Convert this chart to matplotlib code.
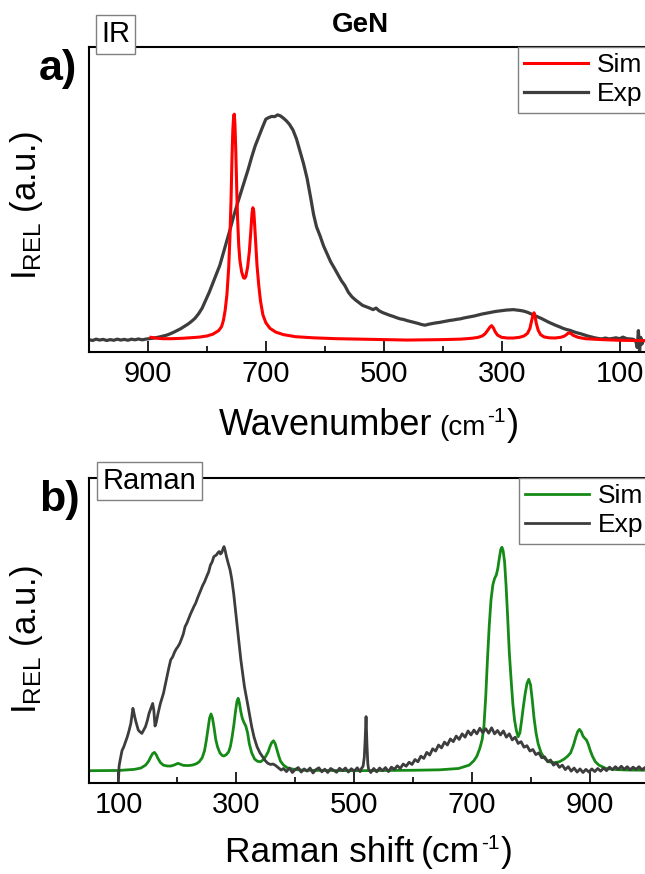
import matplotlib
matplotlib.use('Agg')
import matplotlib.pyplot as plt
from matplotlib.ticker import FixedLocator
from matplotlib.lines import Line2D

plt.rcParams['font.family'] = ['Liberation Sans', 'DejaVu Sans']
plt.rcParams['mathtext.fontset'] = 'custom'
plt.rcParams['mathtext.rm'] = 'Liberation Sans'
plt.rcParams['mathtext.it'] = 'Liberation Sans:italic'
plt.rcParams['mathtext.bf'] = 'Liberation Sans:bold'

# ---------------- data: IR (panel a) ----------------
ir_sim_x = [895, 885, 874, 860, 840, 813, 800, 790, 780, 775, 772, 769, 766, 763, 761,
            759, 757.5, 756, 754.5, 753.5, 752.5, 751, 749.5, 748, 746, 744, 741, 738, 736, 734,
            731, 728, 725.5, 723.5, 722, 720.5, 719, 717, 715, 712, 709, 705, 700, 693, 683,
            670, 650, 620, 580, 520, 460, 400, 370, 350, 340, 333, 328, 324, 320, 317,
            314, 311, 307, 300, 290, 280, 270, 262, 256, 252, 249, 246.5, 245, 243.5, 241,
            238, 234, 228, 220, 210, 200, 194, 190, 187, 185, 182, 178, 170, 158, 130,
            100, 75, 50]
ir_sim_y = [0.010, 0.006, 0.004, 0.004, 0.006, 0.011, 0.016, 0.024, 0.040, 0.058, 0.085, 0.13, 0.20, 0.32, 0.45,
            0.62, 0.80, 0.93, 0.995, 1.0, 0.96, 0.84, 0.68, 0.54, 0.42, 0.35, 0.30, 0.275, 0.272, 0.28,
            0.32, 0.39, 0.48, 0.56, 0.585, 0.57, 0.51, 0.42, 0.33, 0.24, 0.17, 0.11, 0.075, 0.050, 0.033,
            0.022, 0.013, 0.008, 0.004, 0.001, -0.002, 0.000, 0.002, 0.006, 0.010, 0.016, 0.026, 0.040, 0.055, 0.062,
            0.052, 0.035, 0.020, 0.010, 0.007, 0.007, 0.010, 0.016, 0.028, 0.050, 0.085, 0.112, 0.119, 0.105, 0.070,
            0.042, 0.022, 0.012, 0.008, 0.007, 0.010, 0.015, 0.022, 0.029, 0.030, 0.026, 0.018, 0.010, 0.004, 0.000,
            -0.003, -0.004, -0.005]

ir_exp_x = [1000, 994, 988, 982, 976, 970, 964, 958, 952, 946,
            940, 934, 928, 922, 916, 910, 904, 898, 892, 886,
            880, 874, 868, 862, 856, 850, 844, 838, 832, 826,
            820, 814, 808, 802, 796, 790, 784, 778, 772, 766,
            760, 754, 748, 742, 736, 730, 724, 718, 712, 706,
            700, 695, 690, 685, 680, 675, 670, 665, 660, 654,
            648, 642, 636, 630, 624, 619, 614, 608, 602, 596,
            590, 584, 578, 572, 566, 560, 554, 548, 542, 536,
            530, 524, 518, 513, 508, 502, 496, 490, 484, 478,
            472, 466, 460, 454, 448, 442, 436, 430, 424, 418,
            412, 406, 400, 394, 388, 382, 376, 370, 364, 358,
            352, 346, 340, 334, 328, 322, 316, 310, 304, 298,
            292, 286, 280, 274, 268, 262, 256, 250, 244, 238,
            232, 226, 220, 214, 208, 202, 196, 190, 184, 178,
            172, 166, 160, 154, 148, 142, 136, 130, 124, 118,
            112, 106, 100, 94, 88, 82, 76, 72, 70, 68,
            66, 64, 62, 60]
ir_exp_y = [0.000, -0.004, 0.002, -0.002, 0.001, -0.004, 0.000, -0.003, 0.002, -0.002,
            0.001, -0.003, 0.002, -0.001, 0.003, -0.001, 0.002, 0.004, 0.006, 0.009,
            0.012, 0.016, 0.020, 0.026, 0.033, 0.041, 0.049, 0.059, 0.069, 0.081,
            0.095, 0.115, 0.140, 0.175, 0.210, 0.250, 0.290, 0.330, 0.385, 0.440,
            0.495, 0.553, 0.605, 0.655, 0.705, 0.755, 0.810, 0.860, 0.900, 0.940,
            0.978, 0.985, 0.990, 0.989, 0.997, 0.992, 0.982, 0.970, 0.955, 0.930,
            0.890, 0.835, 0.780, 0.715, 0.630, 0.555, 0.500, 0.460, 0.415, 0.380,
            0.345, 0.318, 0.290, 0.262, 0.240, 0.210, 0.190, 0.176, 0.164, 0.152,
            0.146, 0.140, 0.133, 0.140, 0.128, 0.120, 0.114, 0.108, 0.103, 0.097,
            0.092, 0.089, 0.084, 0.080, 0.076, 0.072, 0.067, 0.064, 0.068, 0.071,
            0.074, 0.076, 0.079, 0.082, 0.085, 0.087, 0.090, 0.092, 0.096, 0.099,
            0.102, 0.105, 0.109, 0.113, 0.116, 0.119, 0.122, 0.125, 0.127, 0.129,
            0.131, 0.132, 0.133, 0.131, 0.129, 0.126, 0.121, 0.114, 0.107, 0.100,
            0.093, 0.085, 0.077, 0.070, 0.063, 0.057, 0.050, 0.045, 0.041, 0.035,
            0.030, 0.026, 0.021, 0.016, 0.012, 0.008, 0.005, 0.003, 0.007, 0.003,
            0.005, 0.008, 0.004, 0.011, 0.004, 0.003, 0.001, -0.010, -0.035, 0.040,
            -0.050, 0.010, -0.020, -0.005]

# ---------------- data: Raman (panel b) ----------------
ra_sim_x = [50, 100, 127, 138, 146, 151, 155, 158, 161, 164, 167, 171, 176, 183, 189,
            195, 199, 201, 204, 210, 218, 225, 232, 237, 242, 246, 249, 252, 254.5, 257,
            259.5, 262, 265, 268, 272, 276, 279, 283, 287, 290, 293, 296, 298.5, 301, 303,
            305, 307.5, 310, 313, 316, 319, 322, 326, 331, 336, 341, 346, 350, 354, 357,
            360, 363, 366, 369, 372, 375, 380, 387, 400, 415, 500, 600, 645, 677, 695,
            703, 708, 713, 717, 720, 723, 726, 729, 732, 735, 738, 741, 743.5, 746, 748.5,
            750.5, 752.5, 755, 757.5, 760, 763, 766, 769, 772, 775, 778, 781, 784, 787, 790,
            793, 796, 799, 802, 805, 808.5, 812, 817, 823, 830, 840, 848, 856, 862, 867,
            872, 876, 879, 882, 885, 888, 891, 894, 897, 900, 904, 909, 915, 927, 945,
            964, 1000]
ra_sim_y = [0.000, 0.001, 0.006, 0.012, 0.025, 0.042, 0.063, 0.077, 0.082, 0.072, 0.055, 0.037, 0.025, 0.021, 0.021,
            0.026, 0.031, 0.033, 0.030, 0.024, 0.023, 0.025, 0.031, 0.040, 0.058, 0.090, 0.135, 0.190, 0.235, 0.254,
            0.235, 0.195, 0.140, 0.107, 0.080, 0.068, 0.066, 0.072, 0.085, 0.110, 0.155, 0.210, 0.265, 0.310, 0.324,
            0.305, 0.265, 0.235, 0.215, 0.200, 0.170, 0.120, 0.080, 0.052, 0.042, 0.040, 0.050, 0.065, 0.085, 0.108,
            0.126, 0.134, 0.120, 0.093, 0.065, 0.042, 0.025, 0.012, 0.005, 0.002, 0.000, 0.002, 0.004, 0.010, 0.025,
            0.045, 0.065, 0.100, 0.140, 0.200, 0.330, 0.500, 0.650, 0.765, 0.830, 0.860, 0.876, 0.905, 0.950, 0.990,
            1.000, 0.985, 0.935, 0.830, 0.700, 0.530, 0.410, 0.300, 0.225, 0.180, 0.152, 0.170, 0.227, 0.290, 0.346,
            0.390, 0.409, 0.385, 0.316, 0.235, 0.167, 0.120, 0.080, 0.055, 0.040, 0.036, 0.040, 0.052, 0.065, 0.080,
            0.115, 0.152, 0.175, 0.185, 0.175, 0.155, 0.145, 0.137, 0.118, 0.093, 0.065, 0.040, 0.025, 0.010, 0.005,
            0.003, 0.002]

ra_exp_x = [100, 101, 103, 106, 109, 112, 115, 118, 121, 123,
            124.5, 126, 127.5, 130, 133.6, 136, 139.7, 142, 145.8, 149,
            151.9, 155, 158, 160, 162, 164, 167.2, 171, 176.3, 179,
            182, 185, 188.6, 192, 195, 198, 200.8, 204, 207, 210,
            213, 216, 219, 222, 225.2, 228, 231, 234, 237.4, 240,
            243, 246, 249.6, 253, 256, 259, 261.8, 264, 266, 268.5,
            271, 273, 275, 277, 279, 281, 283.2, 286, 289.3, 292,
            295.4, 298, 301.5, 304.5, 307.6, 310.5, 313.7, 317, 319.9, 323,
            326, 330, 335.1, 340, 344.3, 349, 353.4, 358, 362, 365.7,
            369, 372, 376, 380, 385, 390, 395, 400, 405, 410,
            415, 420, 425, 430, 435, 440, 445, 450, 455, 460,
            465, 470, 475, 480, 485, 490, 495, 500, 505, 510,
            512.2, 515, 517, 518.5, 520, 521.5, 523, 524.4, 528, 533,
            538, 543, 548, 553, 558, 563, 568, 573, 578, 583,
            588, 593, 598, 603, 608, 613, 618, 623, 628, 633,
            638, 643, 648, 653, 658, 663, 668, 673, 678, 683,
            688, 693, 698, 703, 708, 713, 718, 723, 728, 733,
            738, 743, 748, 753, 758, 763, 768, 773, 778, 783,
            788, 793, 798, 803, 808, 813, 818, 823, 828, 833,
            838, 843, 848, 853, 858, 863, 868, 873, 878, 883,
            888, 893, 898, 903, 908, 913, 918, 923, 928, 933,
            938, 943, 948, 953, 958, 963, 968, 973, 978, 983,
            988, 993, 998]
ra_exp_y = [-0.045, 0.020, 0.050, 0.090, 0.107, 0.130, 0.152, 0.180, 0.212, 0.250,
            0.279, 0.262, 0.242, 0.215, 0.182, 0.175, 0.167, 0.178, 0.197, 0.225,
            0.257, 0.280, 0.301, 0.270, 0.200, 0.215, 0.257, 0.300, 0.346, 0.380,
            0.420, 0.455, 0.496, 0.510, 0.530, 0.545, 0.555, 0.570, 0.590, 0.612,
            0.645, 0.660, 0.680, 0.700, 0.719, 0.735, 0.750, 0.772, 0.794, 0.810,
            0.830, 0.845, 0.869, 0.890, 0.920, 0.935, 0.958, 0.962, 0.965, 0.975,
            0.981, 0.970, 0.975, 0.990, 1.003, 0.985, 0.958, 0.930, 0.899, 0.860,
            0.794, 0.730, 0.645, 0.570, 0.496, 0.440, 0.376, 0.330, 0.287, 0.240,
            0.197, 0.150, 0.107, 0.080, 0.063, 0.045, 0.033, 0.028, 0.030, 0.025,
            0.018, 0.012, 0.003, 0.010, -0.004, 0.012, -0.008, 0.006, 0.014, -0.006,
            0.008, -0.002, 0.012, -0.010, 0.005, 0.013, -0.005, 0.007, -0.008, 0.010,
            0.002, -0.007, 0.011, 0.000, 0.012, -0.006, 0.009, -0.002, 0.013, -0.004,
            0.010, 0.020, 0.060, 0.140, 0.242, 0.120, 0.030, 0.006, -0.008, 0.010,
            -0.005, 0.012, 0.000, 0.014, -0.004, 0.016, 0.006, 0.022, 0.010, 0.030,
            0.020, 0.038, 0.028, 0.050, 0.040, 0.065, 0.055, 0.082, 0.070, 0.098,
            0.088, 0.115, 0.102, 0.128, 0.115, 0.142, 0.130, 0.155, 0.140, 0.165,
            0.150, 0.178, 0.160, 0.182, 0.165, 0.190, 0.170, 0.188, 0.168, 0.192,
            0.165, 0.180, 0.160, 0.178, 0.150, 0.165, 0.138, 0.150, 0.122, 0.130,
            0.105, 0.112, 0.088, 0.095, 0.072, 0.080, 0.058, 0.062, 0.040, 0.048,
            0.025, 0.035, 0.015, 0.025, 0.005, 0.018, -0.002, 0.012, -0.006, 0.008,
            -0.008, 0.006, -0.006, 0.008, -0.004, 0.010, -0.002, 0.012, 0.000, 0.016,
            0.004, 0.018, 0.006, 0.020, 0.006, 0.018, 0.004, 0.016, 0.006, 0.018,
            0.004, 0.014, 0.008]

ir_ticks = [900, 700, 500, 300, 100]
ir_minor = [800, 600, 400, 200, 0]
ra_ticks = [100, 300, 500, 700, 900]
ra_minor = [200, 400, 600, 800, 1000]

# ---------------- figure ----------------
W, H = 645, 874
fig = plt.figure(figsize=(W / 100, H / 100), dpi=100)


def fx(px):
    return px / W


def fy(py):
    return 1 - py / H


EXP_C = '#3d3d3d'
SIM_IR = '#ff0000'
SIM_RA = '#168a16'

ax1 = fig.add_axes([fx(89), fy(352), 560 / W, 305 / H])
ax2 = fig.add_axes([fx(89), fy(783), 560 / W, 305 / H])

ax1.plot(ir_exp_x, ir_exp_y, color=EXP_C, lw=2.3, zorder=2)
ax1.plot(ir_sim_x, ir_sim_y, color=SIM_IR, lw=2.2, zorder=3)
ax1.set_xlim(1000, 50)
ax1.set_ylim(-0.055, 1.298)

ax2.plot(ra_sim_x, ra_sim_y, color=SIM_RA, lw=2.0, zorder=2)
ax2.plot(ra_exp_x, ra_exp_y, color=EXP_C, lw=2.0, zorder=3)
ax2.set_xlim(50, 1000)
ax2.set_ylim(-0.055, 1.31)

for ax, maj, mnr in ((ax1, ir_ticks, ir_minor), (ax2, ra_ticks, ra_minor)):
    ax.xaxis.set_major_locator(FixedLocator(maj))
    ax.xaxis.set_minor_locator(FixedLocator(mnr))
    ax.tick_params(axis='x', which='major', direction='in', length=8, width=1.2,
                   labelsize=21, pad=6)
    ax.tick_params(axis='x', which='minor', direction='in', length=4.5, width=1.2)
    ax.tick_params(axis='y', which='both', left=False, labelleft=False)
    for sp in ('left', 'bottom', 'top'):
        ax.spines[sp].set_linewidth(1.5)
    ax.spines['right'].set_visible(False)
    ax.set_ylabel(r'I$_{\mathregular{REL}}$ (a.u.)', fontsize=25)

ax1.yaxis.set_label_coords(-0.078, 0.479)
ax2.yaxis.set_label_coords(-0.078, 0.47)

leg_kw = dict(loc='upper left', borderaxespad=0, frameon=True, fancybox=False,
              fontsize=19, handlelength=2.42, handletextpad=0.34, borderpad=0.235,
              labelspacing=0.2, edgecolor='#808080', framealpha=1)
l1 = ax1.legend(handles=[Line2D([], [], color=SIM_IR, lw=2.2), Line2D([], [], color=EXP_C, lw=2.3)],
                labels=['Sim', 'Exp'], bbox_to_anchor=(0.766, 1.0), **leg_kw)
l2 = ax2.legend(handles=[Line2D([], [], color=SIM_RA, lw=2.0), Line2D([], [], color=EXP_C, lw=2.0)],
                labels=['Sim', 'Exp'], bbox_to_anchor=(0.768, 1.0), **leg_kw)
for lg in (l1, l2):
    lg.get_frame().set_linewidth(1.0)

# boxes and panel letters
box = dict(boxstyle='square,pad=0.18', fc='white', ec='#808080', lw=1.0)
fig.text(fx(115.5), fy(34.5), 'IR', fontsize=21, ha='center', va='center', bbox=box, zorder=10)
fig.text(fx(149.5), fy(481), 'Raman', fontsize=21, ha='center', va='center', bbox=box, zorder=10)
fig.text(fx(58), fy(69), 'a)', fontsize=31, fontweight='bold', ha='center', va='center')
fig.text(fx(59), fy(500), 'b)', fontsize=31, fontweight='bold', ha='center', va='center')
fig.text(fx(360), fy(25), 'GeN', fontsize=20, fontweight='bold', ha='center', va='center')


def composite(pieces, xc_px, base_px):
    renderer = fig.canvas.get_renderer()
    items = []
    for s, size, dy, gap in pieces:
        t = fig.text(0, 0, s, fontsize=size, ha='left', va='baseline')
        w = t.get_window_extent(renderer).width
        items.append((t, w, dy, gap))
    total = sum(w + g for _, w, _, g in items)
    x = xc_px - total / 2
    for t, w, dy, gap in items:
        t.set_position((fx(x), fy(base_px - dy)))
        x += w + gap


composite([('Wavenumber', 26, 0, 7), ('(cm', 20, 0, 1), ('-1', 15, 13, 1), (')', 26, 0, 0)], 369, 435)
composite([('Raman shift', 25.5, 0, 7), ('(cm', 25.5, 0, 1), ('-1', 15, 13, 1), (')', 25.5, 0, 0)], 369, 862)

fig.savefig('out.png', dpi=100)
